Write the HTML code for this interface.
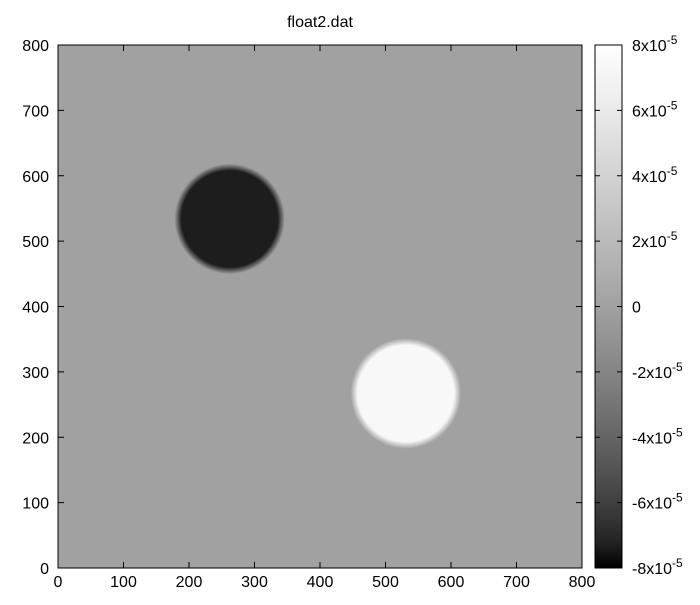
<!DOCTYPE html>
<html><head><meta charset="utf-8"><style>
body{margin:0;background:#fff;font-family:"Liberation Sans",sans-serif;}
svg text{font-family:"Liberation Sans",sans-serif;font-size:16px;fill:#000;}
</style></head><body>
<svg id="c" width="700" height="600"></svg>
<script>
const xTicks=[0,100,200,300,400,500,600,700,800];
const yTicks=[0,100,200,300,400,500,600,700,800];
const cbTicks=[8,6,4,2,0,-2,-4,-6,-8];
const blobX=[262,531];
const blobY=[534,267];
const blobR=[79,79];
const blobV=[-7.4,7.35];
const bgV=0;
const NS="http://www.w3.org/2000/svg";
const svg=document.getElementById('c');
const L=58,R=582,T=45,B=568;
const sx=v=>L+(v/800)*(R-L), sy=v=>B-(v/800)*(B-T);
const cbL=595,cbR=622,cy=v=>B-((v+8)/16)*(B-T);
function gray(v){const t=Math.max(0,Math.min(1,(v+8)/16));const g=Math.round(255*Math.pow(t,1/1.5));return `rgb(${g},${g},${g})`;}
function el(tag,a,p){const e=document.createElementNS(NS,tag);for(const k in a)e.setAttribute(k,a[k]);(p||svg).appendChild(e);return e;}
const defs=el('defs',{});
const bg=el('rect',{x:L,y:T,width:R-L,height:B-T,fill:gray(bgV)});


blobX.forEach((x,i)=>{
  const g=el('radialGradient',{id:'g'+i},defs);
  const rpx=blobR[i]/800*(R-L), edge=rpx+3.5, inner=(rpx-3.5)/edge;
  el('stop',{offset:inner,'stop-color':gray(blobV[i])},g);
  el('stop',{offset:1,'stop-color':gray(blobV[i]),'stop-opacity':0},g);
  const c=el('circle',{cx:sx(x),cy:sy(blobY[i]),r:edge,fill:`url(#g${i})`});
  
  
});
el('rect',{x:L,y:T,width:R-L,height:B-T,fill:'none',stroke:'#000','stroke-width':1});
xTicks.forEach(v=>{
  el('line',{x1:sx(v),x2:sx(v),y1:B,y2:B-6,stroke:'#000'});
  el('line',{x1:sx(v),x2:sx(v),y1:T,y2:T+6,stroke:'#000'});
  const t=el('text',{x:sx(v),y:B+19,'text-anchor':'middle'});t.textContent=v;
  
  
});
yTicks.forEach(v=>{
  el('line',{x1:L,x2:L+6,y1:sy(v),y2:sy(v),stroke:'#000'});
  el('line',{x1:R,x2:R-6,y1:sy(v),y2:sy(v),stroke:'#000'});
  const t=el('text',{x:L-9,y:sy(v)+6,'text-anchor':'end'});t.textContent=v;
  
  
});
const cg=el('linearGradient',{id:'cb',x1:0,y1:1,x2:0,y2:0},defs);
for(let i=0;i<=20;i++){el('stop',{offset:i/20,'stop-color':gray(-8+16*i/20)},cg);}
const cb=el('rect',{x:cbL,y:T,width:cbR-cbL,height:B-T,fill:'url(#cb)',stroke:'#000'});


cbTicks.forEach(v=>{
  el('line',{x1:cbL,x2:cbL+5,y1:cy(v),y2:cy(v),stroke:'#000'});
  el('line',{x1:cbR,x2:cbR-5,y1:cy(v),y2:cy(v),stroke:'#000'});
  const t=el('text',{x:632,y:cy(v)+6});
  if(v===0)t.textContent='0';
  else{t.textContent=v+'x10';const s=el('tspan',{dy:-7,'font-size':'12px'},t);s.textContent='-5';}
  
  
});
const title=el('text',{x:320,y:27,'text-anchor':'middle'});title.textContent='float2.dat';


</script>
</body></html>
